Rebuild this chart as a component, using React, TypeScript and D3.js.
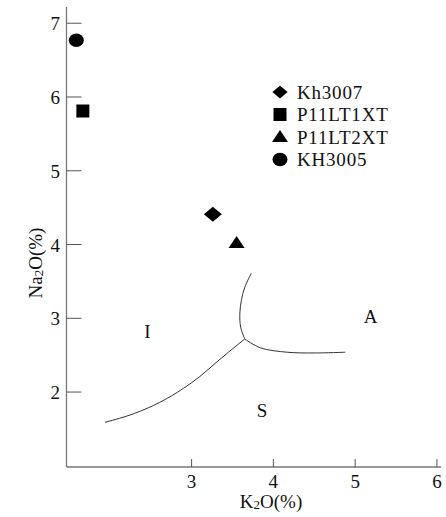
import React from "react";
import { scaleLinear, line, curveCatmullRom, curveMonotoneX } from "d3";

// sample points (K2O %, Na2O %)
const samples = ["Kh3007", "P11LT1XT", "P11LT2XT", "KH3005"];
const shapes = ["diamond", "square", "triangle", "circle"];
const k2o = [3.26, 1.67, 3.55, 1.59];
const na2o = [4.41, 5.81, 4.02, 6.77];

// field boundaries (I / A / S)
const boundaryIS = [
  [1.94, 1.59],
  [2.3, 1.71],
  [2.61, 1.86],
  [2.9, 2.05],
  [3.1, 2.21],
  [3.3, 2.4],
  [3.45, 2.54],
  [3.65, 2.72]
];
const boundaryIA = [
  [3.65, 2.72],
  [3.6, 2.88],
  [3.59, 3.07],
  [3.61, 3.25],
  [3.65, 3.42],
  [3.73, 3.61]
];
const boundarySA = [
  [3.65, 2.72],
  [3.84, 2.6],
  [4.17, 2.54],
  [4.5, 2.53],
  [4.88, 2.54]
];
const fieldLabels = [
  { text: "I", x: 2.46, y: 2.73 },
  { text: "A", x: 5.19, y: 2.94 },
  { text: "S", x: 3.86, y: 1.66 }
];

const xTicks = [3, 4, 5, 6];
const yTicks = [2, 3, 4, 5, 6, 7];

const font = '"Liberation Serif", Tinos, "Times New Roman", Times, serif';

function Marker({ shape, x, y, s = 1 }) {
  if (shape === "diamond")
    return (
      <path
        d={`M${x - 9 * s},${y} L${x},${y - 7.5 * s} L${x + 9 * s},${y} L${x},${y + 7.5 * s} Z`}
        fill="#000"
      />
    );
  if (shape === "square")
    return <rect x={x - 6.5} y={y - 6.5} width={13} height={13} fill="#000" />;
  if (shape === "triangle")
    return (
      <path d={`M${x - 8},${y + 5} L${x},${y - 7} L${x + 8},${y + 5} Z`} fill="#000" />
    );
  return <ellipse cx={x} cy={y} rx={7.5} ry={6.8} fill="#000" />;
}

export default function App() {
  const width = 446,
    height = 517;
  const left = 66.5,
    right = 441,
    top = 7,
    bottom = 467;

  const x = scaleLinear().domain([1.47, 6.05]).range([left, right]);
  const y = scaleLinear().domain([0.984, 7.22]).range([bottom, top]);

  const smooth = line()
    .x(d => x(d[0]))
    .y(d => y(d[1]))
    .curve(curveMonotoneX);
  const path = line()
    .x(d => x(d[0]))
    .y(d => y(d[1]))
    .curve(curveCatmullRom);

  const legendX = 280,
    legendY = 92,
    legendStep = 22.5;

  return (
    <svg
      width={width}
      height={height}
      style={{ position: "absolute", left: 0, top: 0, background: "#fff", fontFamily: font }}
    >
      {/* axes */}
      <line x1={left} y1={top} x2={left} y2={bottom} stroke="#777" strokeWidth={1.3} />
      <line x1={left} y1={bottom} x2={right} y2={bottom} stroke="#777" strokeWidth={1.3} />
      {yTicks.map(t => (
        <g key={t}>
          <line x1={left} x2={left + 15} y1={y(t)} y2={y(t)} stroke="#555" strokeWidth={1} />
          <text x={60} y={y(t) + 7} fontSize={19} textAnchor="end" fill="#111">
            {t}
          </text>
        </g>
      ))}
      {xTicks.map(t => (
        <g key={t}>
          <line x1={x(t)} x2={x(t)} y1={bottom} y2={bottom - 8} stroke="#555" strokeWidth={1} />
          <text x={x(t)} y={488} fontSize={19} textAnchor="middle" fill="#111">
            {t}
          </text>
        </g>
      ))}
      <text x={271} y={508} fontSize={19} textAnchor="middle" fill="#111">
        K<tspan fontSize={13} dy={1}>2</tspan>
        <tspan dy={-1}>O(%)</tspan>
      </text>
      <text
        transform="translate(42,263) rotate(-90)"
        fontSize={19}
        textAnchor="middle"
        fill="#111"
      >
        Na<tspan fontSize={13} dy={1}>2</tspan>
        <tspan dy={-1}>O(%)</tspan>
      </text>

      {/* field boundaries */}
      <path d={smooth(boundaryIS)} fill="none" stroke="#333" strokeWidth={1} />
      <path d={path(boundaryIA)} fill="none" stroke="#333" strokeWidth={1} />
      <path d={path(boundarySA)} fill="none" stroke="#333" strokeWidth={1} />
      {fieldLabels.map(l => (
        <text
          key={l.text}
          x={x(l.x)}
          y={y(l.y)}
          fontSize={19}
          textAnchor="middle"
          fill="#111"
        >
          {l.text}
        </text>
      ))}

      {/* samples */}
      {samples.map((s, i) => (
        <Marker key={s} shape={shapes[i]} x={x(k2o[i])} y={y(na2o[i])} />
      ))}

      {/* legend */}
      {samples.map((s, i) => (
        <g key={s}>
          <Marker
            shape={shapes[i]}
            x={legendX}
            y={legendY + i * legendStep}
            s={0.85}
          />
          <text
            x={legendX + 17}
            y={legendY + i * legendStep + 6.5}
            fontSize={19}
            letterSpacing={0.8}
            fill="#111"
          >
            {s}
          </text>
        </g>
      ))}
    </svg>
  );
}
